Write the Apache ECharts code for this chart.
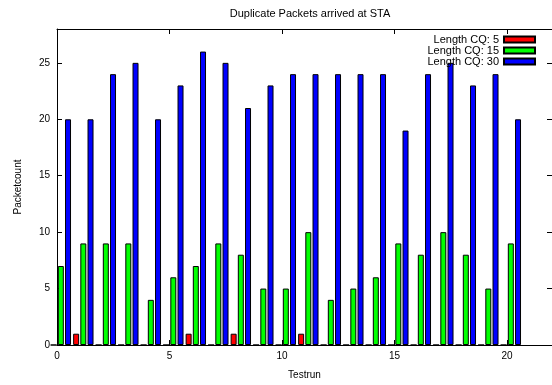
<!DOCTYPE html>
<html>
<head>
<meta charset="utf-8">
<script src="https://cdn.jsdelivr.net/npm/echarts@6/dist/echarts.min.js"></script>
<style>
  html, body { margin: 0; padding: 0; background: #fff; }
  #chart { width: 552px; height: 385px; }
</style>
</head>
<body>
<div id="chart"></div>
<script>
const testruns = [0, 1, 2, 3, 4, 5, 6, 7, 8, 9, 10, 11, 12, 13, 14, 15, 16, 17, 18, 19, 20];
const cq5 = [0, 1, 0, 0, 0, 0, 1, 0, 1, 0, 0, 1, 0, 0, 0, 0, 0, 0, 0, 0, 0];
const cq15 = [7, 9, 9, 9, 4, 6, 7, 9, 8, 5, 5, 10, 4, 5, 6, 9, 8, 10, 8, 5, 9];
const cq30 = [20, 20, 24, 25, 20, 23, 26, 25, 21, 23, 24, 24, 24, 24, 24, 19, 24, 25, 23, 24, 20];
const seriesNames = ["Length CQ: 5", "Length CQ: 15", "Length CQ: 30"];

const chart = echarts.init(document.getElementById("chart"));

// each series sits at its own offset inside a testrun slot
function pairs(values, offset) {
  return testruns.map((t, i) => [t + offset, values[i]]);
}

const font = "'Liberation Sans', Arial, sans-serif";
const axisLine = { show: true, onZero: false, lineStyle: { color: "#000", width: 1 } };
const tick = { show: true, inside: true, length: 5, lineStyle: { color: "#000" } };

function barSeries(name, values, offset, color) {
  return {
    name: name,
    type: "bar",
    data: pairs(values, offset),
    barWidth: 6,
    barGap: "-100%",
    itemStyle: { color: color, borderColor: "#000", borderWidth: 1 },
    emphasis: { disabled: true }
  };
}

const option = {
  animation: false,
  textStyle: { fontFamily: font },
  title: {
    text: "Duplicate Packets arrived at STA",
    left: 305,
    textAlign: "center",
    top: 3,
    textStyle: { fontSize: 11, fontWeight: "normal", color: "#000", fontFamily: font }
  },
  legend: {
    data: seriesNames,
    icon: "rect",
    orient: "vertical",
    align: "right",
    right: 11,
    top: 29,
    itemWidth: 31,
    itemHeight: 6,
    itemGap: 0,
    selectedMode: false,
    textStyle: { fontSize: 11, color: "#000", lineHeight: 10.6, fontFamily: font }
  },
  grid: { left: 57, right: -1, top: 29, bottom: 32 },
  xAxis: [
    {
      type: "value",
      min: 0,
      max: 22,
      interval: 5,
      position: "bottom",
      name: "Testrun",
      nameLocation: "middle",
      nameGap: 25,
      nameTextStyle: { fontSize: 10, color: "#000", fontFamily: font },
      axisLine: axisLine,
      axisTick: tick,
      axisLabel: { fontSize: 10, color: "#000", margin: 6, showMaxLabel: false },
      splitLine: { show: false }
    },
    {
      type: "value",
      min: 0,
      max: 22,
      interval: 5,
      position: "top",
      axisLine: axisLine,
      axisTick: tick,
      axisLabel: { show: false },
      splitLine: { show: false }
    }
  ],
  yAxis: [
    {
      type: "value",
      min: 0,
      max: 28,
      interval: 5,
      position: "left",
      name: "Packetcount",
      nameLocation: "middle",
      nameGap: 34,
      nameTextStyle: { fontSize: 10, color: "#000", fontFamily: font },
      axisLine: axisLine,
      axisTick: tick,
      axisLabel: { fontSize: 10, color: "#000", margin: 7, showMaxLabel: false },
      splitLine: { show: false }
    },
    {
      type: "value",
      min: 0,
      max: 28,
      interval: 5,
      position: "right",
      axisLine: axisLine,
      axisTick: tick,
      axisLabel: { show: false },
      splitLine: { show: false }
    }
  ],
  series: [
    barSeries(seriesNames[0], cq5, -0.15, "#ff0000"),
    barSeries(seriesNames[1], cq15, 0.17, "#00ff00"),
    barSeries(seriesNames[2], cq30, 0.49, "#0000ff")
  ]
};

chart.setOption(option);
</script>
</body>
</html>
